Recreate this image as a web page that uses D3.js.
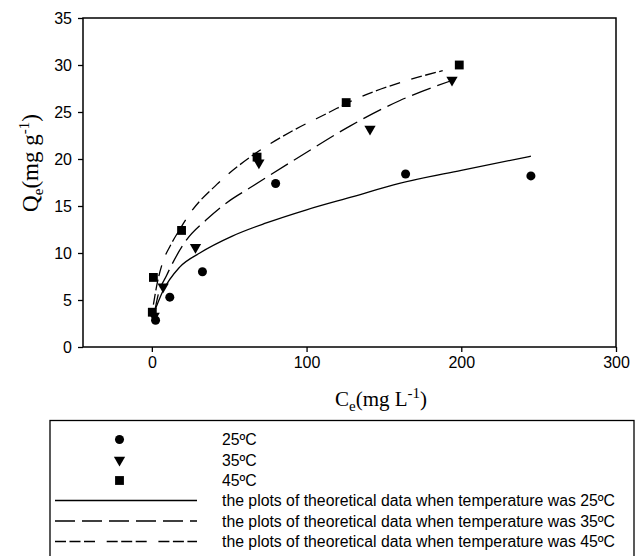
<!DOCTYPE html>
<html>
<head>
<meta charset="utf-8">
<script src="https://cdn.jsdelivr.net/npm/d3@7"></script>
<style>
  body { margin: 0; background: #fff; }
  svg { display: block; }
</style>
</head>
<body>
<svg id="chart" width="644" height="556"></svg>
<script>
// measured points, Ce (mg/L) vs Qe (mg/g)
const pts25 = [[2.4, 2.85], [11.6, 5.3], [32.7, 8.0], [80, 17.4], [164, 18.4], [245, 18.2]];
const pts35 = [[1.5, 3.3], [7.3, 6.4], [28.2, 10.6], [69.2, 19.6], [141, 23.2], [194, 28.4]];
const pts45 = [[0.3, 3.7], [1.0, 7.4], [19.2, 12.4], [68, 20.2], [125.6, 26.0], [198.7, 30.0]];

// theoretical curves
const fit25 = [[2, 3.9], [7, 5.9], [18, 8.5], [31, 10.0], [52, 11.8], [74, 13.2], [100, 14.6], [130, 16.0], [160, 17.4], [200, 18.8], [245, 20.3]];
const fit35 = [[1.5, 3.5], [4, 5.5], [9.5, 7.6], [22, 11.3], [35, 13.5], [48, 15.3], [65, 17.1], [97, 20.4], [128, 23.5], [160, 26.2], [193, 28.3]];
const fit45 = [[1, 4.5], [3, 6.4], [7, 9.0], [12, 10.8], [18, 12.5], [25, 14.3], [42, 17.3], [67, 20.6], [91, 23.0], [115, 25.0], [128, 26.1], [160, 28.1], [188, 29.4]];

const xTicks = [0, 100, 200, 300];
const yTicks = [0, 5, 10, 15, 20, 25, 30, 35];
const legendLabels = [
  "25ºC", "35ºC", "45ºC",
  "the plots of theoretical data when temperature was 25ºC",
  "the plots of theoretical data when temperature was 35ºC",
  "the plots of theoretical data when temperature was 45ºC"
];

const svg = d3.select("#chart");
const plot = { left: 83, right: 616, top: 18, bottom: 347 };

const x = d3.scaleLinear().domain([-44.5, 300]).range([plot.left, plot.right]);
const y = d3.scaleLinear().domain([0, 35]).range([plot.bottom, plot.top]);

const dash35 = "20,7";
const dash45 = "11,3.5,11,3.5,11,11.7";

// frame
svg.append("rect")
  .attr("x", plot.left).attr("y", plot.top)
  .attr("width", plot.right - plot.left).attr("height", plot.bottom - plot.top)
  .attr("fill", "none").attr("stroke", "#000").attr("stroke-width", 1.5);

const yAxis = svg.append("g")
  .attr("transform", `translate(${plot.left},0)`)
  .call(d3.axisLeft(y).tickValues(yTicks).tickSize(5).tickPadding(6));
const xAxis = svg.append("g")
  .attr("transform", `translate(0,${plot.bottom})`)
  .call(d3.axisBottom(x).tickValues(xTicks).tickSize(5).tickPadding(5));

[xAxis, yAxis].forEach(g => {
  g.select(".domain").remove();
  g.selectAll(".tick line").attr("stroke", "#000").attr("stroke-width", 1.3);
  g.selectAll(".tick text")
    .attr("fill", "#000")
    .style("font-family", "Liberation Sans, Arial, sans-serif")
    .style("font-size", "16px");
});

// fitted curves
const line = d3.line()
  .x(d => x(d[0]))
  .y(d => y(d[1]))
  .curve(d3.curveMonotoneX);

const curves = [
  { data: fit25, dash: null },
  { data: fit35, dash: dash35 },
  { data: fit45, dash: dash45 }
];
curves.forEach(c => {
  svg.append("path")
    .datum(c.data)
    .attr("fill", "none")
    .attr("stroke", "#000")
    .attr("stroke-width", 1.3)
    .attr("stroke-dasharray", c.dash)
    .attr("d", line);
});

// markers
const symCircle = d3.symbol().type(d3.symbolCircle).size(64);
const symTri = d3.symbol().type(d3.symbolTriangle).size(55);
const symSquare = d3.symbol().type(d3.symbolSquare).size(78);

const series = [
  { data: pts25, sym: symCircle, rot: 0 },
  { data: pts35, sym: symTri, rot: 180 },
  { data: pts45, sym: symSquare, rot: 0 }
];
series.forEach(s => {
  svg.append("g").selectAll("path")
    .data(s.data)
    .join("path")
    .attr("d", s.sym())
    .attr("fill", "#000")
    .attr("transform", d => `translate(${x(d[0])},${y(d[1])}) rotate(${s.rot})`);
});

// axis titles
const yTitle = svg.append("text")
  .attr("transform", "translate(38,163) rotate(-90)")
  .attr("text-anchor", "middle")
  .style("font-family", "Liberation Serif, Times New Roman, serif")
  .style("font-size", "23px");
yTitle.append("tspan").text("Q");
yTitle.append("tspan").attr("dy", 5).style("font-size", "15px").text("e");
yTitle.append("tspan").attr("dy", -5).text("(mg g");
yTitle.append("tspan").attr("dy", -9).style("font-size", "15px").text("-1");
yTitle.append("tspan").attr("dy", 9).text(")");

const xTitle = svg.append("text")
  .attr("x", 381).attr("y", 406)
  .attr("text-anchor", "middle")
  .style("font-family", "Liberation Serif, Times New Roman, serif")
  .style("font-size", "21px");
xTitle.append("tspan").text("C");
xTitle.append("tspan").attr("dy", 5).style("font-size", "15px").text("e");
xTitle.append("tspan").attr("dy", -5).text("(mg L");
xTitle.append("tspan").attr("dy", -8).style("font-size", "15px").text("-1");
xTitle.append("tspan").attr("dy", 8).text(")");

// legend
const legend = svg.append("g");
legend.append("rect")
  .attr("x", 50).attr("y", 420.5)
  .attr("width", 584).attr("height", 140)
  .attr("fill", "none").attr("stroke", "#000").attr("stroke-width", 1.3);

const rowY = [439.5, 460, 480.5, 500.5, 521, 541.5];
const legendItems = [
  { type: "sym", sym: symCircle, rot: 0 },
  { type: "sym", sym: symTri, rot: 180 },
  { type: "sym", sym: symSquare, rot: 0 },
  { type: "line", dash: null },
  { type: "line", dash: dash35 },
  { type: "line", dash: dash45 }
];
legendItems.forEach((it, i) => {
  if (it.type === "sym") {
    legend.append("path")
      .attr("d", it.sym())
      .attr("fill", "#000")
      .attr("transform", `translate(119.5,${rowY[i]}) rotate(${it.rot})`);
  } else {
    legend.append("line")
      .attr("x1", 55).attr("x2", 197)
      .attr("y1", rowY[i]).attr("y2", rowY[i])
      .attr("stroke", "#000").attr("stroke-width", 1.5)
      .attr("stroke-dasharray", it.dash);
  }
  legend.append("text")
    .attr("x", 222).attr("y", rowY[i])
    .attr("dy", "0.36em")
    .style("font-family", "Liberation Sans, Arial, sans-serif")
    .style("font-size", "15.8px")
    .text(legendLabels[i]);
});
</script>
</body>
</html>
